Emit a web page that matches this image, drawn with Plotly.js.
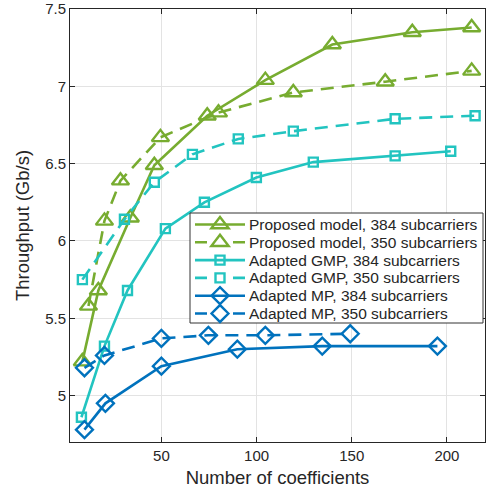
<!DOCTYPE html>
<html>
<head>
<meta charset="utf-8">
<script src="https://cdn.plot.ly/plotly-3.0.1.min.js"></script>
<style>html,body{margin:0;padding:0;background:#fff;}#chart{width:489px;height:492px;}</style>
</head>
<body>
<div id="chart"></div>
<script>
// Proposed model
const propX384 = [8.5, 16.9, 33.7, 46.3, 74.1, 104.6, 139.8, 181.8, 213];
const propY384 = [5.22, 5.68, 6.15, 6.49, 6.81, 7.04, 7.27, 7.35, 7.38];
const propX350 = [11.7, 20.1, 28.5, 49.5, 80, 119.3, 167.6, 213];
const propY350 = [5.58, 6.13, 6.39, 6.67, 6.83, 6.96, 7.03, 7.10];
// Adapted GMP
const gmpX384 = [8, 20.1, 32.2, 52.1, 72.6, 99.9, 129.8, 172.8, 202];
const gmpY384 = [4.86, 5.32, 5.68, 6.08, 6.25, 6.41, 6.51, 6.55, 6.58];
const gmpX350 = [8.5, 30.6, 46.3, 66.3, 90.4, 119.3, 172.8, 214.8];
const gmpY350 = [5.75, 6.14, 6.38, 6.56, 6.66, 6.71, 6.79, 6.81];
// Adapted MP
const mpX384 = [9.6, 20.6, 50, 89.9, 134.5, 195];
const mpY384 = [4.78, 4.95, 5.19, 5.30, 5.32, 5.32];
const mpX350 = [9.6, 20.1, 50, 74.7, 104.6, 149.2];
const mpY350 = [5.18, 5.26, 5.37, 5.39, 5.39, 5.40];

const names = [
  'Proposed model, 384 subcarriers',
  'Proposed model, 350 subcarriers',
  'Adapted GMP, 384 subcarriers',
  'Adapted GMP, 350 subcarriers',
  'Adapted MP, 384 subcarriers',
  'Adapted MP, 350 subcarriers'
];

const green = '#77AC30', cyan = '#22C4C0', blue = '#0072BD';
const dashPat = '13px,8px';
const styles = [
  {color: green, dash: 'solid', sym: 'triangle-up-open', size: 15},
  {color: green, dash: dashPat, sym: 'triangle-up-open', size: 15},
  {color: cyan, dash: 'solid', sym: 'square-open', size: 9},
  {color: cyan, dash: dashPat, sym: 'square-open', size: 9},
  {color: blue, dash: 'solid', sym: 'diamond-open', size: 13},
  {color: blue, dash: dashPat, sym: 'diamond-open', size: 13}
];
const xs = [propX384, propX350, gmpX384, gmpX350, mpX384, mpX350];
const ys = [propY384, propY350, gmpY384, gmpY350, mpY384, mpY350];

const data = xs.map((x, i) => ({
  x: x, y: ys[i], name: names[i], type: 'scatter', mode: 'lines+markers', showlegend: false,
  line: {color: styles[i].color, width: 2.6, dash: styles[i].dash},
  marker: {symbol: styles[i].sym, size: styles[i].size, color: styles[i].color,
           line: {color: styles[i].color, width: 2.4}}
}));

// Layout geometry (plot area in pixels)
const W = 489, H = 492, ML = 70, MR = 4, MT = 9, MB = 50;
const PW = W - ML - MR, PH = H - MT - MB;
const px2x = p => (p - ML) / PW;
const py2y = p => 1 - (p - MT) / PH;

// Custom legend (box, samples, labels) drawn as layout shapes/annotations
const shapes = [], annotations = [];
shapes.push({type: 'rect', xref: 'paper', yref: 'paper', layer: 'above',
  x0: px2x(190), x1: px2x(483), y0: py2y(323), y1: py2y(213),
  fillcolor: '#ffffff', line: {color: '#333333', width: 1}});
function markerPath(sym, size) {
  const r = size / 2;
  if (sym.startsWith('triangle')) {
    const rt = r * 2 / Math.sqrt(3), r2 = r / 2;
    return `M${-rt},${-r2} L${rt},${-r2} L0,${r} Z`;
  }
  if (sym.startsWith('square')) {
    return `M${r},${r} L${-r},${r} L${-r},${-r} L${r},${-r} Z`;
  }
  const rd = r * 1.3;
  return `M${rd},0 L0,${rd} L${-rd},0 L0,${-rd} Z`;
}
names.forEach((nm, i) => {
  const yc = 224.5 + 17.8 * i;
  const s = styles[i];
  shapes.push({type: 'line', xref: 'paper', yref: 'paper', layer: 'above',
    x0: px2x(195), x1: px2x(245), y0: py2y(yc), y1: py2y(yc),
    line: {color: s.color, width: 2.6, dash: s.dash === 'solid' ? 'solid' : '12px,26px'}});
  shapes.push({type: 'path', xref: 'paper', yref: 'paper', layer: 'above',
    xsizemode: 'pixel', ysizemode: 'pixel', xanchor: px2x(220), yanchor: py2y(yc),
    path: markerPath(s.sym, s.size), fillcolor: 'rgba(0,0,0,0)',
    line: {color: s.color, width: 2.4}});
  annotations.push({xref: 'paper', yref: 'paper', x: px2x(247), y: py2y(yc),
    xanchor: 'left', yanchor: 'middle', showarrow: false, text: nm,
    font: {size: 15.5, color: '#262626'}});
});

const layout = {
  width: W, height: H,
  margin: {l: ML, r: MR, t: MT, b: MB},
  paper_bgcolor: '#fff', plot_bgcolor: '#fff',
  font: {family: 'Liberation Sans, Arial, sans-serif', color: '#262626', size: 15},
  showlegend: false,
  shapes: shapes, annotations: annotations,
  xaxis: {
    range: [2, 220], tickvals: [50, 100, 150, 200],
    showgrid: true, gridcolor: '#e3e3e3', gridwidth: 1,
    zeroline: false, showline: true, linecolor: '#262626', linewidth: 1, mirror: 'ticks',
    ticks: 'inside', ticklen: 5, tickcolor: '#262626',
    tickfont: {size: 15, color: '#262626'},
    title: {text: 'Number of coefficients', font: {size: 18.5, color: '#262626'}, standoff: 8}
  },
  yaxis: {
    range: [4.7, 7.5], tickvals: [5, 5.5, 6, 6.5, 7, 7.5],
    ticktext: ['5', '5.5', '6', '6.5', '7', '7.5'],
    showgrid: true, gridcolor: '#e3e3e3', gridwidth: 1,
    zeroline: false, showline: true, linecolor: '#262626', linewidth: 1, mirror: 'ticks',
    ticks: 'inside', ticklen: 5, tickcolor: '#262626',
    tickfont: {size: 15, color: '#262626'},
    title: {text: 'Throughput (Gb/s)', font: {size: 18.5, color: '#262626'}, standoff: 10}
  }
};
Plotly.newPlot('chart', data, layout, {displayModeBar: false, staticPlot: true});
</script>
</body>
</html>
